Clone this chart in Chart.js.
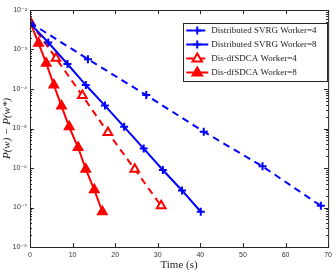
<!DOCTYPE html>
<html>
<head>
<meta charset="utf-8">
<script src="https://cdn.jsdelivr.net/npm/chart.js@4.4.1/dist/chart.umd.min.js"></script>
<style>
  body { margin: 0; background: #fff; }
  canvas { display: block; }
</style>
</head>
<body>
<canvas id="chart" width="336" height="276"></canvas>
<script>
const seriesLabels = [
    "Distributed SVRG Worker=4",
    "Distributed SVRG Worker=8",
    "Dis-dfSDCA Worker=4",
    "Dis-dfSDCA Worker=8"
];

const svrg4Time = [0, 13.6, 27.3, 40.8, 54.6, 68.3];
const svrg4Gap = [4.8e-3, 5.7e-4, 7.0e-5, 8.3e-6, 1.1e-6, 1.1e-7];

const svrg8Time = [0, 4.3, 8.8, 13.1, 17.6, 22.1, 26.7, 31.2, 35.7, 40.1];
const svrg8Gap = [4.6e-3, 1.5e-3, 4.3e-4, 1.26e-4, 3.8e-5, 1.1e-5, 3.1e-6, 8.9e-7, 2.7e-7, 7.8e-8];

const sdca4Time = [0, 6.1, 12.3, 18.3, 24.6, 30.8];
const sdca4Gap = [5.0e-3, 6.0e-4, 6.8e-5, 7.9e-6, 9.3e-7, 1.1e-7];

const sdca8Time = [0, 2.0, 3.8, 5.6, 7.4, 9.2, 11.3, 13.1, 15.1, 17.0];
const sdca8Gap = [5.0e-3, 1.45e-3, 4.5e-4, 1.26e-4, 3.7e-5, 1.1e-5, 3.3e-6, 9.3e-7, 2.8e-7, 7.8e-8];

const xTicks = [0, 10, 20, 30, 40, 50, 60, 70];
const yTickExps = [-2, -3, -4, -5, -6, -7, -8];

const BLUE = "#0000ff";
const RED = "#ff0000";
const AXIS = "#262626";
const SERIF = "'Liberation Serif', 'DejaVu Serif', serif";
const SANS = "'Liberation Sans', 'DejaVu Sans', sans-serif";

function toPoints(xs, ys) {
    return xs.map((x, i) => ({ x: x, y: ys[i] }));
}

function superscript(n) {
    const map = { "-": "\u207b", "0": "\u2070", "1": "\u00b9", "2": "\u00b2", "3": "\u00b3",
        "4": "\u2074", "5": "\u2075", "6": "\u2076", "7": "\u2077", "8": "\u2078", "9": "\u2079" };
    return String(n).split("").map(c => map[c]).join("");
}

// MATLAB-like box with inward ticks on all four sides
const axisBox = {
    id: "axisBox",
    afterDatasetsDraw(chart) {
        const { ctx, chartArea: a, scales } = chart;
        ctx.save();
        ctx.strokeStyle = AXIS;
        ctx.lineWidth = 1;
        ctx.strokeRect(a.left + 0.5, a.top + 0.5, a.right - a.left, a.bottom - a.top);
        ctx.beginPath();
        xTicks.forEach(t => {
            const px = Math.round(scales.x.getPixelForValue(t)) + 0.5;
            ctx.moveTo(px, a.bottom); ctx.lineTo(px, a.bottom - 4);
            ctx.moveTo(px, a.top); ctx.lineTo(px, a.top + 4);
        });
        yTickExps.forEach(e => {
            for (let m = 1; m <= 9; m++) {
                const v = m * Math.pow(10, e);
                if (v > 1e-2 * 1.0001 || v < 1e-8) continue;
                const py = Math.round(scales.y.getPixelForValue(v)) + 0.5;
                const len = m === 1 ? 4 : 2;
                ctx.moveTo(a.left, py); ctx.lineTo(a.left + len, py);
                ctx.moveTo(a.right, py); ctx.lineTo(a.right - len, py);
            }
        });
        ctx.stroke();
        ctx.restore();
    }
};

// boxed legend inside the plot, top right, with line + marker samples
const boxLegend = {
    id: "boxLegend",
    afterDraw(chart) {
        const { ctx, chartArea: a } = chart;
        const sets = chart.data.datasets;
        ctx.save();
        ctx.font = "9px " + SERIF;
        const textW = Math.max(...sets.map(d => ctx.measureText(d.label).width));
        const rowH = 14;
        const sample = 22;
        const boxW = 3 + sample + 3 + textW + 11;
        const boxH = rowH * sets.length + 2;
        const right = a.right - 0.5;
        const left = right - boxW;
        const top = a.top + 13.5;
        ctx.fillStyle = "#fff";
        ctx.fillRect(left, top, boxW, boxH);
        ctx.strokeStyle = AXIS;
        ctx.lineWidth = 1;
        ctx.strokeRect(Math.round(left) + 0.5, top, Math.round(boxW), boxH);
        sets.forEach((d, i) => {
            const y = top + 7 + i * rowH;
            const x0 = left + 3;
            const cx = x0 + sample / 2;
            const r = d.pointRadius;
            ctx.strokeStyle = d.borderColor;
            ctx.lineWidth = d.borderWidth;
            ctx.setLineDash(d.borderDash || []);
            ctx.beginPath();
            ctx.moveTo(x0, y); ctx.lineTo(x0 + sample, y);
            ctx.stroke();
            ctx.setLineDash([]);
            ctx.fillStyle = d.pointBackgroundColor;
            ctx.lineWidth = d.pointBorderWidth;
            ctx.beginPath();
            if (d.pointStyle === "triangle") {
                ctx.moveTo(cx, y - r);
                ctx.lineTo(cx + r * 0.95, y + r * 0.6);
                ctx.lineTo(cx - r * 0.95, y + r * 0.6);
                ctx.closePath();
                ctx.fill();
                ctx.stroke();
            } else {
                ctx.moveTo(cx - r, y); ctx.lineTo(cx + r, y);
                ctx.moveTo(cx, y - r); ctx.lineTo(cx, y + r);
                ctx.stroke();
            }
            ctx.fillStyle = "#222";
            ctx.textBaseline = "middle";
            ctx.fillText(d.label, x0 + sample + 3, y + 0.5);
        });
        ctx.restore();
    }
};

function lineSet(label, xs, ys, color, dashed, style, filled) {
    return {
        label: label,
        data: toPoints(xs, ys),
        borderColor: color,
        borderWidth: 2,
        borderDash: dashed ? [7, 5] : [],
        pointStyle: style,
        pointRadius: style === "triangle" ? 5 : 4,
        pointBorderWidth: 2,
        pointBorderColor: color,
        pointBackgroundColor: filled ? color : "#fff",
        fill: false,
        tension: 0
    };
}

const ctx = document.getElementById("chart").getContext("2d");
new Chart(ctx, {
    type: "line",
    data: {
        datasets: [
            lineSet(seriesLabels[0], svrg4Time, svrg4Gap, BLUE, true, "cross", true),
            lineSet(seriesLabels[1], svrg8Time, svrg8Gap, BLUE, false, "cross", true),
            lineSet(seriesLabels[2], sdca4Time, sdca4Gap, RED, true, "triangle", false),
            lineSet(seriesLabels[3], sdca8Time, sdca8Gap, RED, false, "triangle", true)
        ]
    },
    options: {
        responsive: false,
        animation: false,
        layout: { padding: { top: 10, right: 7, left: 0, bottom: 0 } },
        plugins: {
            legend: { display: false },
            tooltip: { enabled: false }
        },
        scales: {
            x: {
                type: "linear",
                min: 0,
                max: 70,
                afterBuildTicks: s => { s.ticks = xTicks.map(v => ({ value: v })); },
                ticks: { font: { family: SANS, size: 7 }, color: "#333", padding: 4, maxRotation: 0 },
                grid: { display: false, drawTicks: false },
                border: { display: false },
                title: {
                    display: true,
                    text: "Time (s)",
                    font: { family: SERIF, size: 11 },
                    color: "#222",
                    padding: { top: 0, bottom: 4 }
                },
                afterFit: s => { s.height = 29; }
            },
            y: {
                type: "logarithmic",
                min: 1e-8,
                max: 1e-2,
                afterBuildTicks: s => { s.ticks = yTickExps.map(e => ({ value: Math.pow(10, e) })); },
                ticks: {
                    font: { family: SANS, size: 7 },
                    color: "#333",
                    padding: 3,
                    callback: v => "10" + superscript(Math.round(Math.log10(v)))
                },
                grid: { display: false, drawTicks: false },
                border: { display: false },
                title: {
                    display: true,
                    text: "P(w) \u2212 P(w*)",
                    font: { family: SERIF, size: 11, style: "italic" },
                    color: "#222",
                    padding: { top: 1, bottom: 0 }
                },
                afterFit: s => { s.width = 30; }
            }
        }
    },
    plugins: [axisBox, boxLegend]
});
</script>
</body>
</html>
